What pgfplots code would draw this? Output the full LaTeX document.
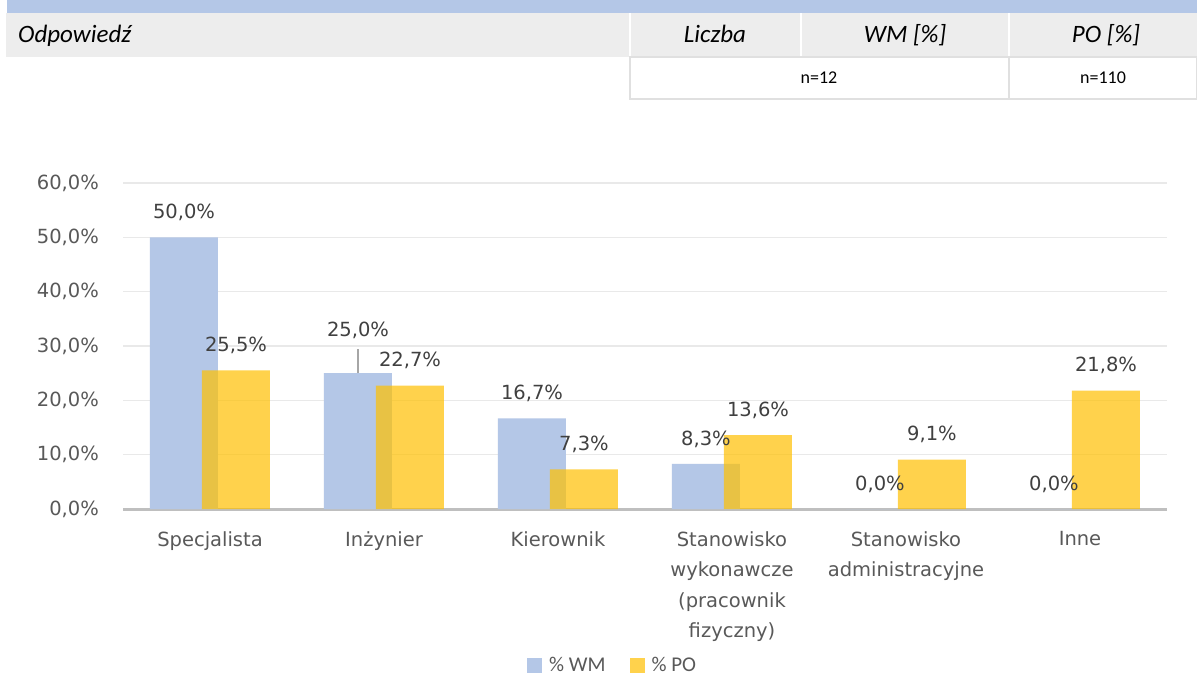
\documentclass[border=0pt]{standalone}
\usepackage{pgfplots}
\pgfplotsset{compat=1.18}
\usepackage{pgfplotstable}
\usepackage{fontspec}
\setmainfont{DejaVu Sans}
\newfontfamily\calibri{Carlito}
\definecolor{wmblue}{HTML}{B4C7E7}
\definecolor{pogold}{HTML}{FFC000}
\definecolor{txtgray}{HTML}{595959}
\definecolor{lblgray}{HTML}{404040}
\definecolor{gridgray}{HTML}{E9E9E9}
\definecolor{axgray}{HTML}{BFBFBF}
\definecolor{hdrblue}{HTML}{B4C7E7}
\definecolor{hdrgray}{HTML}{EDEDED}
\definecolor{hdrline}{HTML}{E0E0E0}
\definecolor{leadgray}{HTML}{A6A6A6}

\pgfplotstableread{
x wm po sh
0 50.0 25.5 25
1 25.0 22.7 43
2 16.7 7.3 25
3 8.3 13.6 25
4 0.0 9.1 25
5 0.0 21.8 25
}\datatable

\begin{document}
\begin{tikzpicture}
\path[use as bounding box, fill=white] (0pt,0pt) rectangle (1197pt,689pt);
% header fragment of the table
\fill[hdrblue] (7pt,689pt) rectangle (1197pt,676pt);
\fill[hdrgray] (6pt,676pt) rectangle (1197pt,632pt);
\draw[white, line width=1.5pt] (630pt,676pt) -- (630pt,632pt) (801pt,676pt) -- (801pt,632pt) (1009pt,676pt) -- (1009pt,632pt);
\draw[hdrline, line width=1.5pt] (630pt,632pt) rectangle (1197pt,590pt);
\draw[hdrline, line width=1.5pt] (1009pt,632pt) -- (1009pt,590pt);
\node[anchor=base west, inner sep=0pt, font=\calibri\itshape\fontsize{25}{29}\selectfont] at (18pt,646pt) {Odpowiedź};
\node[anchor=base, inner sep=0pt, font=\calibri\itshape\fontsize{25}{29}\selectfont] at (715pt,646pt) {Liczba};
\node[anchor=base, inner sep=0pt, font=\calibri\itshape\fontsize{25}{29}\selectfont] at (905pt,646pt) {WM [\%]};
\node[anchor=base, inner sep=0pt, font=\calibri\itshape\fontsize{25}{29}\selectfont] at (1106pt,646pt) {PO [\%]};
\node[anchor=base, inner sep=0pt, font=\calibri\fontsize{18}{22}\selectfont] at (819pt,605pt) {n=12};
\node[anchor=base, inner sep=0pt, font=\calibri\fontsize{18}{22}\selectfont] at (1103pt,605pt) {n=110};

\begin{axis}[
  at={(123pt,180pt)}, anchor=south west,
  scale only axis, width=1044pt, height=326pt,
  xmin=-0.5, xmax=5.5, ymin=0, ymax=60,
  ybar, bar width=68pt,
  axis line style={draw=none},
  major tick length=0pt,
  ytick={0,10,20,30,40,50,60},
  ymajorgrids, grid style={gridgray, line width=1.5pt},
  extra y ticks={0}, extra y tick labels={},
  extra y tick style={grid style={axgray, line width=3pt}},
  yticklabel={\pgfmathprintnumber[fixed,fixed zerofill,precision=1,use comma,assume math mode=true]{\tick}\%},
  yticklabel style={anchor=east, inner sep=0pt, xshift=-24pt, text=txtgray, font=\fontsize{19.5}{24}\selectfont},
  xtick={0,1,2,3,4,5},
  xticklabels={Specjalista, Inżynier, Kierownik, {Stanowisko\\wykonawcze\\(pracownik\\fizyczny)}, {Stanowisko\\administracyjne}, Inne},
  xticklabel style={align=center, anchor=north, inner sep=0pt, yshift=-22pt, text=txtgray, font=\fontsize{19.5}{30.5}\selectfont},
  legend style={at={(0.469,-0.479)}, anchor=center, draw=none, fill=none,
    font=\calibri\fontsize{21}{24}\selectfont, text=txtgray, legend columns=2,
    /tikz/every even column/.append style={column sep=22pt}},
  legend image code/.code={\fill[#1] (0pt,-7.5pt) rectangle (15pt,7.5pt); \path (0pt,0pt) (20pt,0pt);},
  nodes near coords={\pgfmathprintnumber[fixed,fixed zerofill,precision=1,use comma,assume math mode=true]{\pgfplotspointmeta}\%},
]
\addplot[fill=wmblue, draw=none, bar shift=-26pt,
  visualization depends on={\thisrow{sh} \as \sh},
  every node near coord/.append style={anchor=center, yshift=\sh pt, text=lblgray, font=\fontsize{19.5}{24}\selectfont}]
  table[x=x, y=wm] {\datatable};
\addlegendentry{\% WM}
\addplot[fill=pogold, fill opacity=0.7, draw=none, bar shift=26pt,
  every node near coord/.append style={anchor=center, yshift=25pt, text=lblgray, text opacity=1, fill opacity=1, font=\fontsize{19.5}{24}\selectfont}]
  table[x=x, y=po] {\datatable};
\addlegendentry{\% PO}
\draw[leadgray, line width=1.5pt] ([xshift=-26pt]axis cs:1,25) -- ([xshift=-26pt, yshift=24pt]axis cs:1,25);
\end{axis}
\end{tikzpicture}
\end{document}
